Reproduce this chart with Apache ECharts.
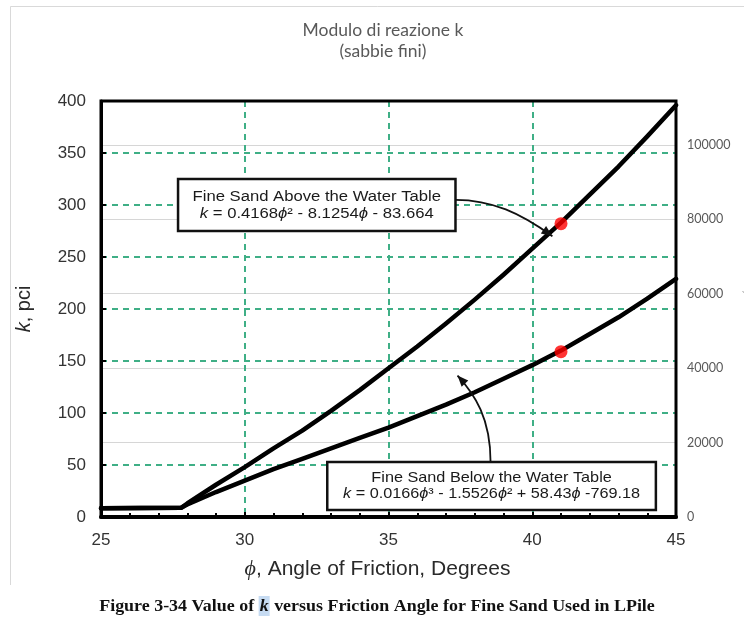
<!DOCTYPE html>
<html>
<head>
<meta charset="utf-8">
<script src="https://cdn.jsdelivr.net/npm/echarts@6/dist/echarts.min.js"></script>
<style>
  html, body { margin: 0; padding: 0; background: #ffffff; }
  #chart { width: 744px; height: 618px; }
</style>
</head>
<body>
<div id="chart"></div>
<script>
// Friction angle (degrees) at which the two curves are sampled
const phi = [25, 27.8, 28, 29, 30, 31, 32, 33, 34, 35, 36, 37, 38, 39, 40, 41, 42, 43, 44, 45];
// k (pci) for fine sand above the water table
const kAbove = [8.5, 9, 13, 31, 48, 66, 83, 102, 122, 143, 164, 186, 209, 233, 258, 283, 310, 337, 366, 396];
// k (pci) for fine sand below the water table
const kBelow = [8.5, 9, 12, 24, 35, 46, 56, 66, 76, 86, 97, 108, 120, 133, 146, 160, 176, 192, 210, 229];
// Highlighted design points (red dots)
const markPhi = [41, 41];
const markK = [282, 159];

const titleLines = ['Modulo di reazione k', '(sabbie fini)'];
const boxAboveLines = ['Fine Sand Above the Water Table', '{i|k} = 0.4168{i|ϕ}² - 8.1254{i|ϕ} - 83.664'];
const boxBelowLines = ['Fine Sand Below the Water Table', '{i|k} = 0.0166{i|ϕ}³ - 1.5526{i|ϕ}² + 58.43{i|ϕ} -769.18'];
const caption = 'Figure 3-34 Value of {k|k} versus Friction Angle for Fine Sand Used in LPile';

const GREEN = '#3faf86';
const chart = echarts.init(document.getElementById('chart'), null, { renderer: 'canvas' });

const option = {
  animation: false,
  backgroundColor: '#ffffff',
  grid: {
    left: 101, top: 101, width: 575, height: 416,
    outerBoundsMode: 'none', containLabel: false,
    show: false
  },
  xAxis: {
    type: 'value', min: 25, max: 45, interval: 5,
    name: '{i|ϕ}, Angle of Friction, Degrees',
    nameLocation: 'middle', nameGap: 41,
    nameTextStyle: {
      fontFamily: 'Liberation Sans', fontSize: 21, color: '#2a2a2a', padding: [0, 22, 0, 0],
      rich: { i: { fontStyle: 'italic', fontFamily: 'Liberation Serif', fontSize: 22, color: '#2a2a2a' } }
    },
    axisLine: { show: true, lineStyle: { color: '#000', width: 4 } },
    axisTick: { show: true, inside: true, length: 5, lineStyle: { color: '#000', width: 2 } },
    minorTick: { show: true, splitNumber: 5, length: 4, lineStyle: { color: '#000', width: 2 } },
    axisLabel: { fontFamily: 'Liberation Sans', fontSize: 17, color: '#333', margin: 15 },
    splitLine: { show: true, lineStyle: { color: GREEN, width: 2, type: [6, 5] } }
  },
  yAxis: [
    {
      type: 'value', min: 0, max: 400, interval: 50,
      name: '{i|k}, pci', nameLocation: 'middle', nameGap: 67, nameRotate: 90,
      nameTextStyle: {
        fontFamily: 'Liberation Sans', fontSize: 20, color: '#2a2a2a',
        rich: { i: { fontStyle: 'italic', fontFamily: 'Liberation Sans', fontSize: 20, color: '#2a2a2a' } }
      },
      axisLine: { show: true, lineStyle: { color: '#000', width: 3 } },
      axisTick: { show: true, inside: true, length: 5, lineStyle: { color: '#000', width: 2 } },
      axisLabel: { fontFamily: 'Liberation Sans', fontSize: 17, color: '#333', margin: 15 },
      splitLine: { show: true, lineStyle: { color: GREEN, width: 2, type: [6, 5] } }
    },
    {
      type: 'value', min: 0, max: 111800, interval: 20000, position: 'right',
      name: 'k, kN/m3', nameLocation: 'middle', nameGap: 60, nameRotate: -90,
      nameTextStyle: { fontFamily: 'Lato', fontSize: 12, color: '#595959' },
      axisLine: { show: false }, axisTick: { show: false },
      axisLabel: { fontFamily: 'Lato', fontSize: 12.5, color: '#595959', margin: 11, showMaxLabel: false,
                   formatter: (v) => String(v) },
      splitLine: { show: true, lineStyle: { color: '#d6d6d6', width: 1.2 } }
    }
  ],
  series: [
    {
      name: 'Above the Water Table', type: 'line', yAxisIndex: 0,
      data: phi.map((p, i) => [p, kAbove[i]]),
      showSymbol: false, smooth: false, z: 5,
      lineStyle: { color: '#000', width: 4.5, join: 'round', cap: 'round' }
    },
    {
      name: 'Below the Water Table', type: 'line', yAxisIndex: 0,
      data: phi.map((p, i) => [p, kBelow[i]]),
      showSymbol: false, smooth: false, z: 5,
      lineStyle: { color: '#000', width: 4.5, join: 'round', cap: 'round' }
    },
    {
      name: 'Design points', type: 'scatter', yAxisIndex: 0,
      data: markPhi.map((p, i) => [p, markK[i]]),
      symbolSize: 13, z: 8,
      itemStyle: { color: '#ff0000' }
    }
  ]
};
chart.setOption(option);

// Pixel position of a (phi, k) pair on the main axes
function px(p, k) {
  return chart.convertToPixel({ xAxisIndex: 0, yAxisIndex: 0 }, [p, k]);
}

// Arrowhead polygon at (x2,y2) pointing away from (cx,cy)
function arrowHead(cx, cy, x2, y2, len, half) {
  const dx = x2 - cx, dy = y2 - cy;
  const d = Math.sqrt(dx * dx + dy * dy);
  const ux = dx / d, uy = dy / d;
  const bx = x2 - ux * len, by = y2 - uy * len;
  return [[x2, y2], [bx - uy * half, by + ux * half], [bx + uy * half, by - ux * half]];
}

// Callout box anchored in data space, with a two-line label
function callout(p1, k1, p2, k2, lines, fontSize, sx) {
  const a = px(p1, k1), b = px(p2, k2);
  const x = a[0], y = a[1], w = b[0] - a[0], h = b[1] - a[1];
  const cx = x + w / 2;
  const textStyle = (t, yy) => ({
    type: 'text', x: cx, y: yy, scaleX: sx, z: 20,
    style: {
      text: t, align: 'center', verticalAlign: 'middle',
      fontFamily: 'Liberation Sans', fontSize: fontSize, fill: '#1a1a1a',
      rich: { i: { fontStyle: 'italic', fontFamily: 'Liberation Sans', fontSize: fontSize, fill: '#1a1a1a' } }
    }
  });
  return [
    { type: 'rect', z: 19, shape: { x: x, y: y, width: w, height: h },
      style: { fill: '#fff', stroke: '#111', lineWidth: 2.5 } },
    textStyle(lines[0], y + h * 0.34),
    textStyle(lines[1], y + h * 0.67)
  ];
}

function arrow(p0, k0, pc1, kc1, pc2, kc2, p3, k3) {
  const s = px(p0, k0), c1 = px(pc1, kc1), c2 = px(pc2, kc2), e = px(p3, k3);
  return [
    { type: 'bezierCurve', z: 18,
      shape: { x1: s[0], y1: s[1], cpx1: c1[0], cpy1: c1[1], cpx2: c2[0], cpy2: c2[1], x2: e[0], y2: e[1] },
      style: { stroke: '#111', lineWidth: 1.8, fill: null } },
    { type: 'polygon', z: 18,
      shape: { points: arrowHead(c2[0], c2[1], e[0], e[1], 11, 4.5) },
      style: { fill: '#111' } }
  ];
}

const elements = [];
// Plot frame drawn over the grid lines
const tl = px(25, 400), br = px(45, 0);
elements.push({
  type: 'rect', z: 6,
  shape: { x: tl[0], y: tl[1], width: br[0] - tl[0], height: br[1] - tl[1] },
  style: { fill: null, stroke: '#000', lineWidth: 3 }
});
// Callout for the curve above the water table
elements.push(...arrow(37.33, 305, 38.6, 305, 39.6, 292, 40.7, 270));
elements.push(...callout(27.68, 325, 37.33, 275, boxAboveLines, 14, 1.19));
// Callout for the curve below the water table
elements.push(...arrow(38.55, 53, 38.55, 95, 38.0, 118, 37.4, 136));
elements.push(...callout(32.87, 53, 44.3, 6.7, boxBelowLines, 14.5, 1.12));

// Chart title
elements.push({
  type: 'text', x: 383, y: 41, z: 30,
  style: {
    text: titleLines.join('\n'), align: 'center', verticalAlign: 'middle',
    fontFamily: 'Lato', fontSize: 17.5, lineHeight: 21, fill: '#595959'
  }
});
// Outer frame of the chart area
elements.push({
  type: 'polyline', z: 1,
  shape: { points: [[10.5, 585], [10.5, 6.5], [760, 6.5]] },
  style: { stroke: '#d9d9d9', lineWidth: 1, fill: null }
});
// Figure caption
elements.push({
  type: 'text', x: 377, y: 606, z: 30, scaleX: 1.025,
  style: {
    text: caption, align: 'center', verticalAlign: 'middle',
    fontFamily: 'Liberation Serif', fontWeight: 'bold', fontSize: 17.5, fill: '#111',
    rich: { k: { fontStyle: 'italic', fontWeight: 'bold', fontFamily: 'Liberation Serif', fontSize: 17.5,
                 fill: '#111', backgroundColor: '#c6dbf2', padding: [1, 1, 1, 1] } }
  }
});

chart.setOption({ graphic: { elements: elements } });
</script>
</body>
</html>
